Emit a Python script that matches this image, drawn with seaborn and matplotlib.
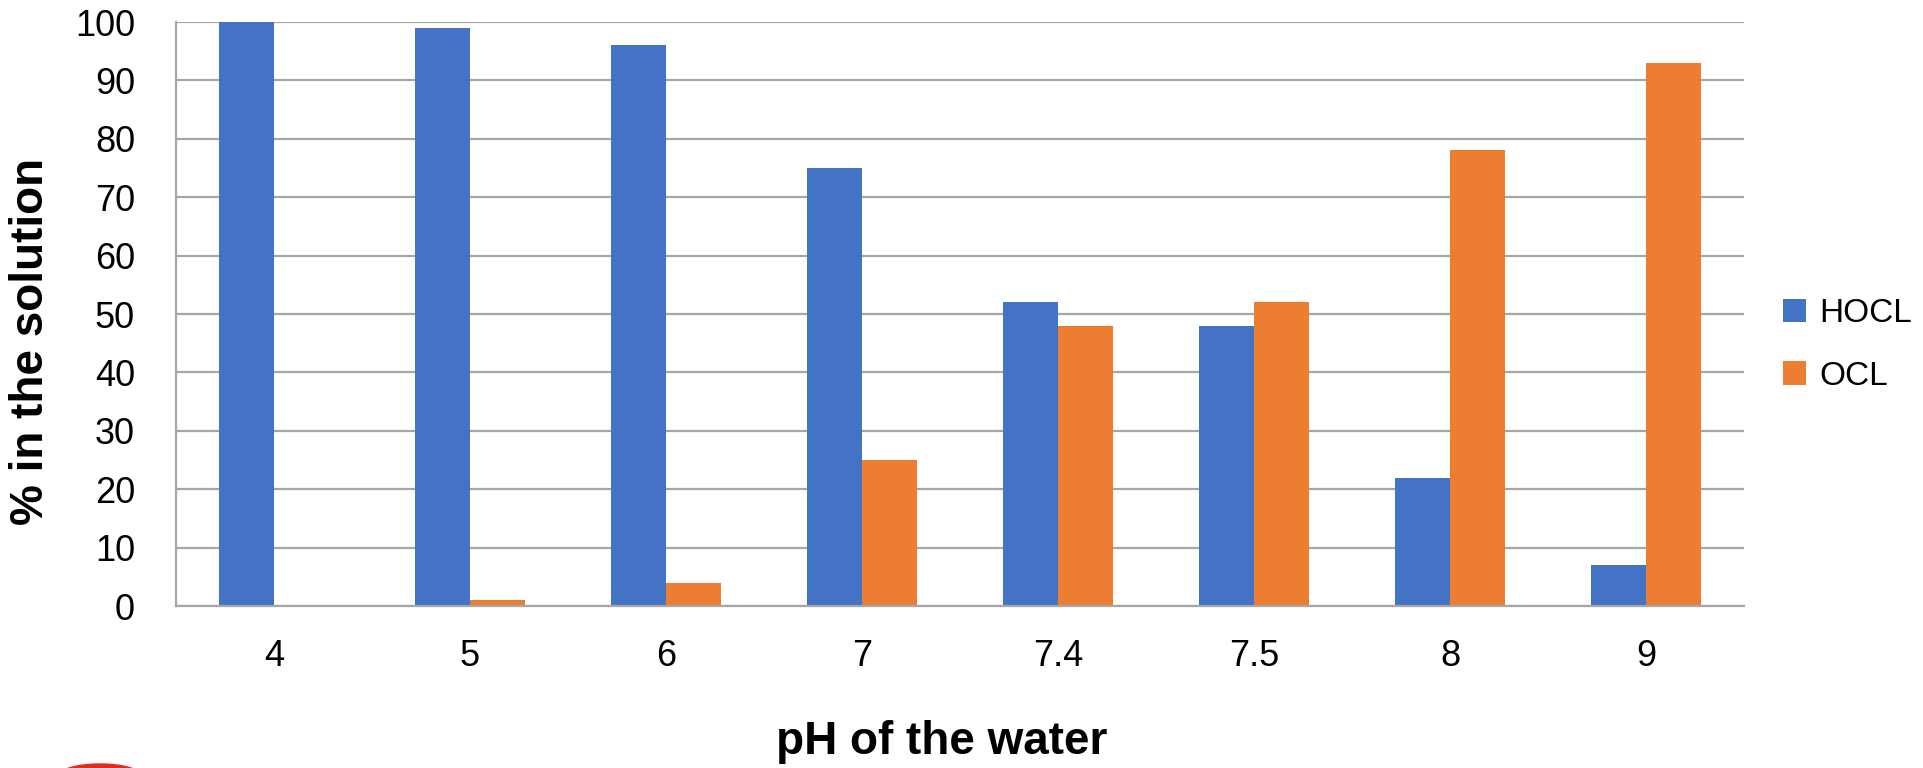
import matplotlib
matplotlib.use("Agg")
import matplotlib.pyplot as plt
from matplotlib.patches import Ellipse
import seaborn as sns
import pandas as pd

# pH values and the share of each chlorine species
ph_levels = ["4", "5", "6", "7", "7.4", "7.5", "8", "9"]
hocl = [100, 99, 96, 75, 52, 48, 22, 7]
ocl = [0, 1, 4, 25, 48, 52, 78, 93]
series_names = ["HOCL", "OCL"]
y_ticks = [0, 10, 20, 30, 40, 50, 60, 70, 80, 90, 100]

df = pd.DataFrame({
    "pH": ph_levels * 2,
    "species": [series_names[0]] * len(ph_levels) + [series_names[1]] * len(ph_levels),
    "percent": hocl + ocl,
})

sns.set_theme(style="white")
plt.rcParams["font.family"] = ["Liberation Sans", "DejaVu Sans"]
plt.rcParams["text.color"] = "black"

W, H = 1923, 768
fig = plt.figure(figsize=(W / 100, H / 100), dpi=100)
ax = fig.add_axes([176 / W, 1 - 606 / H, (1744 - 176) / W, (606 - 22) / H])

grid_col = "#A6A6A6"
palette = {"HOCL": "#4472C4", "OCL": "#ED7D31"}

sns.barplot(data=df, x="pH", y="percent", hue="species", order=ph_levels,
            hue_order=series_names, palette=palette, width=0.565,
            saturation=1, ax=ax, linewidth=0, errorbar=None, legend=True)

ax.set_ylim(0, 100)
ax.set_xlim(-0.5, len(ph_levels) - 0.5)
ax.set_yticks(y_ticks)
ax.yaxis.grid(True, color=grid_col, linewidth=1.6)
ax.set_axisbelow(True)

for side in ["top", "right"]:
    ax.spines[side].set_visible(False)
for side in ["left", "bottom"]:
    ax.spines[side].set_color(grid_col)
    ax.spines[side].set_linewidth(1.6)

# category separators on the x axis
ax.set_xticks([i - 0.5 for i in range(len(ph_levels) + 1)], minor=True)
ax.tick_params(axis="x", which="minor", length=9, width=1.3, color=grid_col, direction="out")
ax.tick_params(axis="x", which="major", length=0, pad=24, labelsize=26, labelcolor="black")
ax.tick_params(axis="y", which="major", length=9.5, width=1.6, color=grid_col,
               direction="out", pad=20, labelsize=26, labelcolor="black")

ax.set_xlabel("")
ax.set_ylabel("")
fig.text(942 / W, 1 - 742 / H, "pH of the water", ha="center", va="center",
         fontsize=33, fontweight="bold", color="black")
fig.text(31 / W, 1 - 341 / H, "% in the solution", ha="center", va="center",
         rotation=90, fontsize=33, fontweight="bold", color="black")

leg = ax.legend(loc="center left", bbox_to_anchor=(1783 / W, 1 - 345 / H),
                bbox_transform=fig.transFigure, frameon=False, fontsize=24,
                handlelength=0.7, handleheight=0.7, handletextpad=0.4,
                labelspacing=0.95, borderpad=0, borderaxespad=0, title=None)
for t in leg.get_texts():
    t.set_color("black")

# partial red logo shape at the lower-left edge
fig.patches.append(Ellipse((100 / W, 1 - 775 / H), 80 / W, 22 / H,
                           transform=fig.transFigure, color="#E02A20", clip_on=True))

fig.savefig("out.png", dpi=100)
